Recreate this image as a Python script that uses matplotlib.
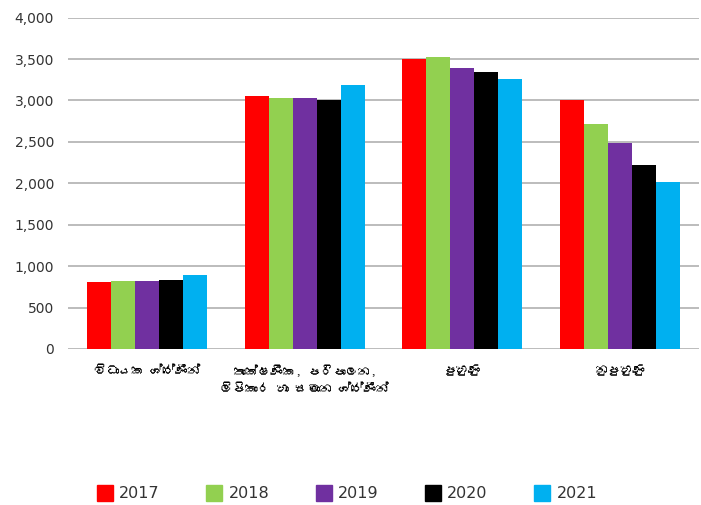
import matplotlib
matplotlib.use("Agg")
import matplotlib.pyplot as plt
from matplotlib import font_manager
from matplotlib.ft2font import FT2Font
from matplotlib.lines import Line2D
import numpy as np

categories = ["විධායක ශ්රේණීන්",
              "තාක්ෂණික, පරිපාලන,\nලිපිකාර හා සමාන ශ්රේණීන්",
              "පුහුණු",
              "නුපුහුණු"]
years = ["2017", "2018", "2019", "2020", "2021"]
v2017 = [810, 3050, 3500, 3010]
v2018 = [825, 3030, 3520, 2715]
v2019 = [825, 3030, 3390, 2490]
v2020 = [830, 3010, 3345, 2225]
v2021 = [895, 3185, 3255, 2020]
series = [v2017, v2018, v2019, v2020, v2021]
colors = ["#ff0000", "#92d050", "#7030a0", "#000000", "#00b0f0"]
yticks = [0, 500, 1000, 1500, 2000, 2500, 3000, 3500, 4000]

# look for any installed font that can draw Sinhala
sinhala_font = None
for f in font_manager.fontManager.ttflist:
    try:
        if 0x0D9A in FT2Font(f.fname).get_charmap():
            sinhala_font = f.name
            break
    except Exception:
        pass
label_family = [sinhala_font, "DejaVu Sans"] if sinhala_font else ["DejaVu Sans"]

fig = plt.figure(figsize=(7.01, 5.05), dpi=100)
ax = fig.add_axes([0.097, 0.309, 0.9, 0.656])

x = np.arange(len(categories))
w = 0.152
for i, (vals, c, yr) in enumerate(zip(series, colors, years)):
    ax.bar(x + (i - 2) * w, vals, width=w, color=c, label=yr, zorder=3)

ax.set_xlim(-0.5, 3.5)
ax.set_ylim(0, 4000)
ax.set_yticks(yticks)
ax.set_yticklabels([f"{t:,}" for t in yticks], fontsize=10, color="#333333")
ax.yaxis.grid(True, color="#b0b0b0", linewidth=1.2, zorder=0)
ax.set_axisbelow(True)
ax.tick_params(axis="both", length=0, pad=10)
for s in ax.spines.values():
    s.set_visible(False)

ax.set_xticks(x)
ax.set_xticklabels(categories, fontsize=9, family=label_family,
                   linespacing=1.5, va="top", fontweight="bold")
ax.tick_params(axis="x", pad=11)

handles = [Line2D([], [], marker="s", linestyle="", markersize=11,
                  markerfacecolor=c, markeredgecolor=c) for c in colors]
fig.legend(handles, years, loc="center", bbox_to_anchor=(0.495, 0.022),
           ncol=5, frameon=False, fontsize=11.5, labelcolor="#333333",
           handletextpad=0.4, columnspacing=2.9, handlelength=1.0)

fig.savefig("out.png", dpi=100)
